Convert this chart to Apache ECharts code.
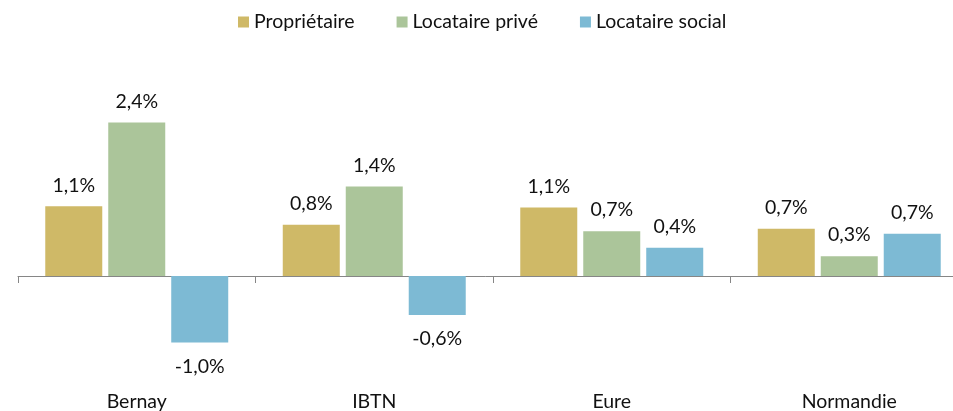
<!DOCTYPE html>
<html>
<head>
<meta charset="utf-8">
<script src="https://cdn.jsdelivr.net/npm/echarts@6/dist/echarts.min.js"></script>
<style>
  html, body { margin: 0; padding: 0; background: #ffffff; }
  #chart { width: 953px; height: 411px; }
</style>
</head>
<body>
<div id="chart"></div>
<script>
// Territories compared
const categories = ['Bernay', 'IBTN', 'Eure', 'Normandie'];

// Annual change by occupancy status (%)
const proprietaire = [1.09, 0.80, 1.07, 0.74];
const locatairePrive = [2.40, 1.40, 0.70, 0.31];
const locataireSocial = [-1.04, -0.61, 0.44, 0.66];

const seriesNames = ['Propriétaire', 'Locataire privé', 'Locataire social'];
const seriesColors = ['#CFB967', '#ABC59A', '#7DBAD4'];

const FONT = 'Lato, "Noto Sans", sans-serif';
const TEXT = '#111111';
const FS = 19.5;

function fmt(v) {
  return v.toFixed(1).replace('.', ',') + '%';
}

// Negative bars carry their label underneath
function withLabels(values) {
  return values.map(v => ({
    value: v,
    label: v < 0 ? { position: 'bottom', distance: 14 } : { position: 'top', distance: 11 }
  }));
}

const values = [proprietaire, locatairePrive, locataireSocial];

const chart = echarts.init(document.getElementById('chart'), null, { renderer: 'canvas' });

chart.setOption({
  animation: false,
  backgroundColor: '#ffffff',
  textStyle: { fontFamily: FONT },
  legend: {
    left: 238,
    top: 12,
    padding: 0,
    itemWidth: 11,
    itemHeight: 11,
    itemGap: 42,
    icon: 'rect',
    textStyle: { fontFamily: FONT, fontSize: FS, color: TEXT },
    data: seriesNames
  },
  grid: {
    left: 18,
    width: 950,
    top: 116,
    height: 256,
    containLabel: false,
    outerBoundsMode: 'none'
  },
  xAxis: [
    {
      // zero line with boundary ticks
      type: 'category',
      data: categories,
      position: 'bottom',
      axisLine: { onZero: true, lineStyle: { color: '#868686', width: 1 } },
      axisTick: { show: true, length: 7, lineStyle: { color: '#868686' } },
      axisLabel: { show: false },
      splitLine: { show: false }
    },
    {
      // category names along the bottom edge
      type: 'category',
      data: categories,
      position: 'bottom',
      axisLine: { show: false, onZero: false },
      axisTick: { show: false },
      axisLabel: { margin: 20, fontFamily: FONT, fontSize: FS, color: TEXT },
      splitLine: { show: false }
    }
  ],
  yAxis: {
    type: 'value',
    min: -1.5,
    max: 2.5,
    show: false
  },
  series: seriesNames.map((name, i) => ({
    name: name,
    type: 'bar',
    xAxisIndex: 0,
    data: withLabels(values[i]),
    barWidth: 57,
    barGap: '10.5%',
    itemStyle: { color: seriesColors[i] },
    label: {
      show: true,
      fontFamily: FONT,
      fontSize: FS,
      color: TEXT,
      formatter: p => fmt(p.value)
    }
  }))
});
</script>
</body>
</html>
